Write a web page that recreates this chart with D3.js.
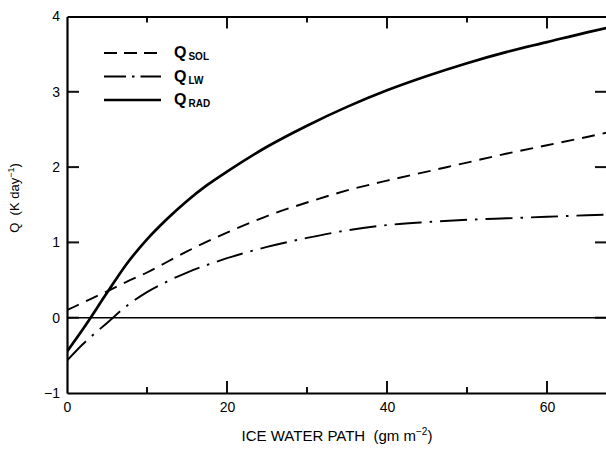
<!DOCTYPE html>
<html><head><meta charset="utf-8">
<script src="https://cdn.jsdelivr.net/npm/d3@7"></script>
<style>
body{margin:0;background:#fff;}
svg{display:block;font-family:"Liberation Sans",Arial,sans-serif;}
</style></head>
<body><svg id="c" width="606" height="452"></svg>
<script>
const iwp   = [0, 2, 5, 7.5, 10, 12.5, 15, 17.5, 20, 25, 30, 35, 40, 45, 50, 55, 60, 65, 68];
const qSol  = [0.10, 0.20, 0.35, 0.48, 0.60, 0.74, 0.88, 1.01, 1.13, 1.35, 1.53, 1.69, 1.82, 1.94, 2.06, 2.18, 2.29, 2.40, 2.47];
const qLw   = [-0.57, -0.35, -0.07, 0.16, 0.34, 0.48, 0.60, 0.70, 0.79, 0.94, 1.06, 1.16, 1.23, 1.27, 1.30, 1.32, 1.34, 1.36, 1.37];
const qRad  = [-0.45, -0.15, 0.33, 0.72, 1.04, 1.31, 1.55, 1.76, 1.94, 2.27, 2.55, 2.80, 3.02, 3.21, 3.38, 3.53, 3.66, 3.79, 3.86];
const xMajor = [0, 20, 40, 60];
const xMinor = [10, 30, 50];
const yTicks = [-1, 0, 1, 2, 3, 4];
const seriesNames = ["SOL", "LW", "RAD"];

const svg = d3.select("#c");
const x = d3.scaleLinear().domain([0, 67.5]).range([67, 607]);
const y = d3.scaleLinear().domain([-1, 4]).range([393, 16.5]);

const series = [
  {name: seriesNames[0], vals: qSol, dash: "13,8", w: 1.9},
  {name: seriesNames[1], vals: qLw, dash: "27,8,2.5,8", w: 1.9},
  {name: seriesNames[2], vals: qRad, dash: null, w: 2.7}
];

// inward tick marks
const xt = xMajor.slice(1).map(v=>({v,len:12})).concat(xMinor.map(v=>({v,len:6})));
const yi = yTicks.slice(1,5);
const tg = svg.append("g").attr("class","tickmarks").attr("fill","#111");
tg.selectAll("rect.b").data(xt).join("rect").attr("class","b")
  .attr("x",d=>x(d.v)-1).attr("width",2).attr("y",d=>y(-1)-d.len).attr("height",d=>d.len);
tg.selectAll("rect.t").data(xt).join("rect").attr("class","t")
  .attr("x",d=>x(d.v)-1).attr("width",2).attr("y",y(4)).attr("height",d=>d.len);
tg.selectAll("rect.l").data(yi).join("rect").attr("class","l")
  .attr("x",x(0)).attr("width",12).attr("y",d=>y(d)-1).attr("height",2);
tg.selectAll("rect.r").data(yi).join("rect").attr("class","r")
  .attr("x",595).attr("width",11).attr("y",d=>y(d)-1).attr("height",2);

function styleAxis(g){
  g.selectAll(".domain").attr("stroke","#000").attr("stroke-width",2.2);
  g.selectAll("text").attr("fill","#000").attr("font-size",14);
}

svg.append("g").attr("transform",`translate(0,${y(-1)})`)
  .call(d3.axisBottom(x).tickValues(xMajor).tickSize(0).tickPadding(9).tickFormat(d3.format("d")))
  .call(styleAxis);
svg.append("g").attr("transform",`translate(0,${y(4)})`)
  .call(d3.axisTop(x).tickValues([]).tickSize(0))
  .call(styleAxis);
svg.append("g").attr("transform",`translate(${x(0)},0)`)
  .call(d3.axisLeft(y).tickValues(yTicks).tickSize(0).tickPadding(7)
    .tickFormat(d=> d<0 ? "\u2212"+Math.abs(d) : String(d)))
  .call(styleAxis);

svg.append("line").attr("x1",x(0)).attr("x2",606).attr("y1",y(0)).attr("y2",y(0))
  .attr("stroke","#000").attr("stroke-width",1.6);

const line = d3.line().x((d,i)=>x(iwp[i])).y(d=>y(d)).curve(d3.curveMonotoneX);
svg.append("clipPath").attr("id","pc").append("rect")
  .attr("x",x(0)).attr("y",y(4)).attr("width",606-x(0)).attr("height",y(-1)-y(4));
svg.append("g").attr("clip-path","url(#pc)").selectAll("path").data(series).join("path")
  .attr("d",d=>line(d.vals)).attr("fill","none").attr("stroke","#000")
  .attr("stroke-width",d=>d.w).attr("stroke-dasharray",d=>d.dash);

const leg = svg.append("g");
series.forEach((s,i)=>{
  const ly = 53 + i*23.5;
  leg.append("line").attr("x1",104).attr("x2",161).attr("y1",ly).attr("y2",ly)
    .attr("stroke","#000").attr("stroke-width",s.w)
    .attr("stroke-dasharray", i===0 ? "13,7" : (i===1 ? "22,6,2.5,6" : null));
  const t = leg.append("text").attr("x",174).attr("y",ly+5).attr("fill","#000")
    .attr("font-weight","bold");
  t.append("tspan").attr("font-size",16).text("Q");
  t.append("tspan").attr("font-size",10).attr("dx",2).attr("dy",2).text(s.name);
});

svg.append("text").attr("x",337).attr("y",441).attr("text-anchor","middle")
  .attr("font-size",15).attr("fill","#000")
  .html('ICE WATER PATH\u00a0\u00a0(gm m<tspan dy="-6" font-size="10">\u22122</tspan><tspan dy="6">)</tspan>');
svg.append("text").attr("transform","translate(19,198) rotate(-90)").attr("text-anchor","middle")
  .attr("font-size",13).attr("fill","#000")
  .html('Q\u00a0\u00a0(K day<tspan dy="-5" font-size="9">\u22121</tspan><tspan dy="5">)</tspan>');
</script></body></html>
